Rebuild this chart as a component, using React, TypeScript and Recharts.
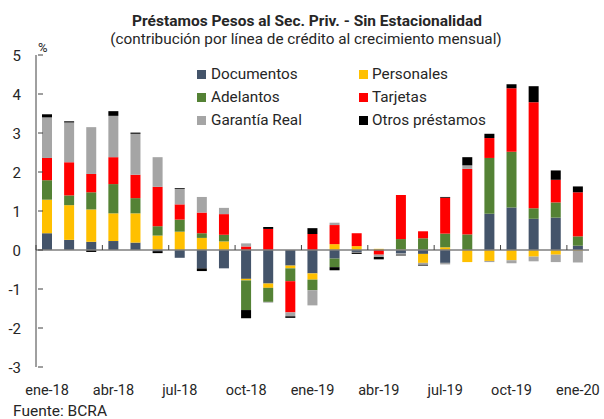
import { Bar, BarChart, ReferenceLine, XAxis, YAxis } from "recharts";

const months = [
  "ene-18", "feb-18", "mar-18", "abr-18", "may-18", "jun-18", "jul-18", "ago-18", "sep-18",
  "oct-18", "nov-18", "dic-18", "ene-19", "feb-19", "mar-19", "abr-19", "may-19", "jun-19",
  "jul-19", "ago-19", "sep-19", "oct-19", "nov-19", "dic-19", "ene-20",
];

const documentos = [
  0.43, 0.26, 0.21, 0.23, 0.19, -0.03, -0.2, -0.47, -0.47, -0.74, -0.86, -0.4, -0.6,
  -0.22, -0.05, 0, -0.09, -0.1, -0.33, 0, 0.93, 1.09, 0.8, 0.83, 0.11,
];
const personales = [
  0.86, 0.89, 0.83, 0.71, 0.75, 0.37, 0.47, 0.31, 0.22, -0.04, -0.11, -0.07, -0.16,
  0.15, 0.1, 0.03, 0.01, -0.23, 0.07, -0.31, -0.28, -0.26, -0.17, -0.12, -0.02,
];
const adelantos = [
  0.5, 0.25, 0.44, 0.75, 0.39, 0.24, 0.31, 0.12, 0.17, -0.76, -0.36, -0.33, -0.27,
  -0.22, 0, 0, 0.27, 0.3, 0.35, 0.4, 1.43, 1.43, 0.27, 0.39, 0.24,
];
const tarjetas = [
  0.57, 0.85, 0.47, 0.69, 0.6, 1.01, 0.39, 0.53, 0.53, 0.09, 0.54, -0.8, 0.41,
  0.49, 0.33, -0.12, 1.13, 0.18, 0.92, 1.68, 0.51, 1.63, 2.72, 0.58, 1.13,
];
const garantiaReal = [
  1.04, 1.02, 1.2, 1.06, 1.05, 0.76, 0.4, 0.4, 0.16, 0.08, -0.02, -0.1, -0.39,
  0.06, -0.02, -0.06, -0.03, -0.05, -0.04, 0.09, -0.03, -0.08, -0.12, -0.19, -0.3,
];
const otros = [
  0.08, 0.03, -0.05, 0.12, 0.03, -0.05, 0.02, -0.07, 0, -0.21, 0.05, -0.04, 0.15,
  -0.08, -0.03, -0.06, -0.02, -0.02, 0.02, 0.21, 0.11, 0.1, 0.41, 0.24, 0.15,
];

const yTicks = [-3, -2, -1, 0, 1, 2, 3, 4, 5];

const SERIES = [
  { key: "documentos", name: "Documentos", color: "#44546a" },
  { key: "personales", name: "Personales", color: "#ffc000" },
  { key: "adelantos", name: "Adelantos", color: "#548235" },
  { key: "tarjetas", name: "Tarjetas", color: "#ff0000" },
  { key: "garantiaReal", name: "Garantía Real", color: "#a5a5a5" },
  { key: "otros", name: "Otros préstamos", color: "#000000" },
];

const data = months.map((month, i) => ({
  month,
  documentos: documentos[i],
  personales: personales[i],
  adelantos: adelantos[i],
  tarjetas: tarjetas[i],
  garantiaReal: garantiaReal[i],
  otros: otros[i],
}));

const W = 604;
const H = 419;
const PLOT_TOP = 55;
const PLOT_BOTTOM = 367;
const ZERO_Y = PLOT_TOP + ((PLOT_BOTTOM - PLOT_TOP) * 5) / 8;
const FONT = "Roboto, 'Noto Sans', sans-serif";
const TEXT = "#262626";

function XTick(props: any) {
  const { x, y, payload } = props;
  const idx = months.indexOf(payload.value);
  if (idx % 3 !== 0) return <g />;
  const bx = x - (payload.offset ?? 0);
  return (
    <g>
      <line x1={bx} x2={bx} y1={ZERO_Y - 5} y2={ZERO_Y} stroke="#404040" strokeWidth={1} />
      <text x={x} y={y + 28} textAnchor="middle" fontSize={14.5} fill={TEXT} fontFamily={FONT}>
        {payload.value}
      </text>
    </g>
  );
}

function YTick(props: any) {
  const { x, y, payload } = props;
  return (
    <g>
      <line x1={x + 17} x2={x + 22} y1={y} y2={y} stroke="#404040" strokeWidth={1} />
      <text x={x} y={y} dy={5.5} textAnchor="end" fontSize={15} fill={TEXT} fontFamily={FONT}>
        {payload.value}
      </text>
    </g>
  );
}

export default function App() {
  return (
    <div
      style={{
        position: "absolute",
        left: 0,
        top: 0,
        width: W,
        height: H,
        background: "#fff",
        fontFamily: FONT,
        color: TEXT,
      }}
    >
      <div style={{ position: "absolute", left: 7, width: 600, top: 12, textAlign: "center", fontSize: 15.5, fontWeight: 700, lineHeight: "18px" }}>
        Préstamos Pesos al Sec. Priv. - Sin Estacionalidad
      </div>
      <div style={{ position: "absolute", left: 6, width: 600, top: 30, textAlign: "center", fontSize: 15.3, lineHeight: "18px" }}>
        (contribución por línea de crédito al crecimiento mensual)
      </div>
      <div style={{ position: "absolute", left: 38, top: 40, fontSize: 13, lineHeight: "15px" }}>%</div>

      <BarChart
        width={W}
        height={H}
        data={data}
        stackOffset="sign"
        margin={{ top: PLOT_TOP, right: 15, bottom: H - PLOT_BOTTOM - 30, left: 8 }}
      >
        <XAxis
          dataKey="month"
          height={30}
          interval={0}
          axisLine={false}
          tickLine={false}
          tickSize={0}
          tickMargin={0}
          tick={XTick}
        />
        <YAxis
          width={28}
          domain={[-3, 5]}
          ticks={yTicks}
          allowDataOverflow
          axisLine={{ stroke: "#404040", strokeWidth: 1 }}
          tickLine={false}
          tickSize={0}
          tickMargin={15}
          tick={YTick}
        />
        {SERIES.map((s) => (
          <Bar
            key={s.key}
            dataKey={s.key}
            name={s.name}
            stackId="a"
            fill={s.color}
            barSize={10}
            isAnimationActive={false}
          />
        ))}
        <ReferenceLine y={0} stroke="#7f7f7f" strokeWidth={1.5} />
      </BarChart>

      {SERIES.map((s, i) => {
        const col = i % 2;
        const row = Math.floor(i / 2);
        return (
          <div
            key={s.key}
            style={{
              position: "absolute",
              left: col === 0 ? 197 : 359,
              top: 74 + row * 23 - 9,
              height: 18,
              display: "flex",
              alignItems: "center",
              fontSize: 15.3,
              whiteSpace: "nowrap",
            }}
          >
            <span style={{ display: "inline-block", width: 9, height: 9, background: s.color, marginRight: col === 0 ? 5 : 4 }} />
            {s.name}
          </div>
        );
      })}

      <div style={{ position: "absolute", left: 13, top: 402, fontSize: 15.5, lineHeight: "18px" }}>Fuente: BCRA</div>
    </div>
  );
}
